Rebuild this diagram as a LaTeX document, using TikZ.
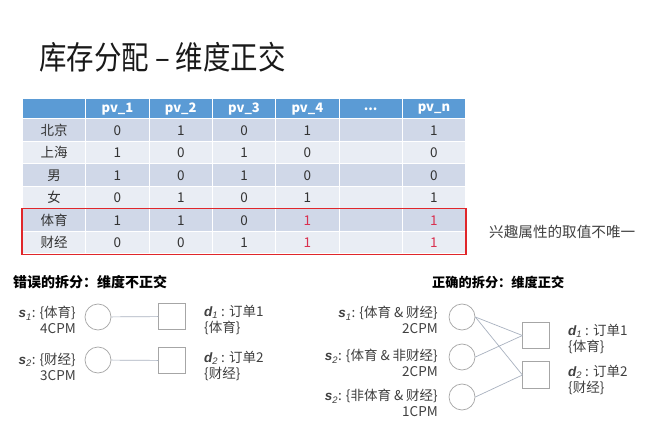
\documentclass[tikz,border=0pt]{standalone}
\usepackage{fontspec}
\setmainfont{Noto Sans CJK SC}
\newfontfamily\latit{Liberation Sans}
\usetikzlibrary{fit}
\definecolor{hdr}{HTML}{5B9BD5}
\definecolor{rowA}{HTML}{D0D8E8}
\definecolor{rowB}{HTML}{E9EDF4}
\definecolor{redbox}{HTML}{E0262A}
\definecolor{rednum}{HTML}{D9304F}
\definecolor{txt}{HTML}{333333}
\definecolor{lbl}{HTML}{404040}
\definecolor{shp}{HTML}{A6A6A6}
\definecolor{edg}{HTML}{A9B2C0}
\newcommand{\svar}[1]{{\latit\itshape\bfseries s}\textsubscript{\latit\itshape #1}}
\newcommand{\dvar}[1]{{\latit\itshape\bfseries d}\textsubscript{\latit\itshape #1}}
\begin{document}
\begin{tikzpicture}[x=1pt,y=-1pt,
  cell/.style={rectangle, minimum width=63.3pt, minimum height=22.5pt, inner sep=0pt,
    draw=white, line width=1pt, font=\fontsize{13.5}{15}\selectfont, text=txt},
  hcell/.style={cell, minimum height=20pt, fill=hdr, text=white, font=\fontsize{13}{15}\selectfont\bfseries},
  circ/.style={circle, draw=shp, line width=0.7pt, minimum size=26pt, inner sep=0pt},
  sq/.style={rectangle, draw=shp, line width=0.7pt, minimum size=26.5pt, inner sep=0pt},
  edge/.style={draw=edg, line width=0.7pt},
  slabel/.style={anchor=east, align=right, text=lbl, font=\fontsize{13.5}{15.5}\selectfont, inner sep=0pt},
  dlabel/.style={anchor=west, align=left, text=lbl, font=\fontsize{13.5}{15.5}\selectfont, inner sep=0pt},
  sect/.style={anchor=west, inner sep=0pt, text=black, font=\bfseries}
]
\useasboundingbox (0,0) rectangle (671,443);
\fill[white] (0,0) rectangle (671,443);

% title
\node[anchor=west, inner sep=0pt, text=black!90, font=\fontsize{28}{32}\selectfont] (title) at (39,57) {\scalebox{0.98}[1.15]{库存分配 – 维度正交}};

% table header
\node[hcell] (r0c0) at (54.15,109) {};
\node[hcell] (r0c1) at (117.45,109) {pv\_1};
\node[hcell] (r0c2) at (180.75,109) {pv\_2};
\node[hcell] (r0c3) at (244.05,109) {pv\_3};
\node[hcell] (r0c4) at (307.35,109) {pv\_4};
\node[hcell] (r0c5) at (370.65,109) {...};
\node[hcell] (r0c6) at (433.95,109) {pv\_n};

% table body
\foreach \r/\lab/\a/\b/\c/\d/\n/\fc/\nc in {
  1/北京/0/1/0/1/1/rowA/txt,
  2/上海/1/0/1/0/0/rowB/txt,
  3/男/1/0/1/0/0/rowA/txt,
  4/女/0/1/0/1/1/rowB/txt,
  5/体育/1/1/0/1/1/rowA/rednum,
  6/财经/0/0/1/1/1/rowB/rednum}{
  \pgfmathsetmacro{\yy}{119+22.5*(\r-1)+11.25}
  \node[cell, fill=\fc] (r\r c0) at (54.15,\yy) {\lab};
  \node[cell, fill=\fc] (r\r c1) at (117.45,\yy) {\a};
  \node[cell, fill=\fc] (r\r c2) at (180.75,\yy) {\b};
  \node[cell, fill=\fc] (r\r c3) at (244.05,\yy) {\c};
  \node[cell, fill=\fc, text=\nc] (r\r c4) at (307.35,\yy) {\d};
  \node[cell, fill=\fc] (r\r c5) at (370.65,\yy) {};
  \node[cell, fill=\fc, text=\nc] (r\r c6) at (433.95,\yy) {\n};
}
\node[draw=redbox, line width=1.3pt, inner sep=0pt, fit=(r5c0)(r6c6)] (redbox) {};
\node[anchor=west, inner sep=0pt, text=lbl, font=\fontsize{14.6}{16}\selectfont] (note) at (489,232) {兴趣属性的取值不唯一};

% wrong split
\node[sect, font=\fontsize{14}{16}\selectfont\bfseries] (wtitle) at (13,282) {错误的拆分：维度不正交};
\node[circ] (ls1) at (98,317) {};
\node[circ] (ls2) at (98,360) {};
\node[sq] (ld1) at (172,316.5) {};
\node[sq] (ld2) at (172,360.5) {};
\draw[edge] (ls1) -- (ld1);
\draw[edge] (ls2) -- (ld2);
\node[slabel] (lsl1) at (76,320) {\svar{1}: \{体育\}\\4CPM};
\node[slabel] (lsl2) at (76,367) {\svar{2}: \{财经\}\\3CPM};
\node[dlabel] (ldl1) at (204,320) {\dvar{1} : 订单1\\\{体育\}};
\node[dlabel] (ldl2) at (204,366) {\dvar{2} : 订单2\\\{财经\}};

% correct split
\node[sect, font=\fontsize{13.2}{15}\selectfont\bfseries] (rtitle) at (432,282) {正确的拆分：维度正交};
\node[circ] (rs1) at (462,317) {};
\node[circ] (rs2) at (462,357) {};
\node[circ] (rs3) at (462,397) {};
\node[sq] (rd1) at (536,335.5) {};
\node[sq] (rd2) at (536,375) {};
\draw[edge] (rs1.east) -- (rd1.west);
\draw[edge] (rs1.east) -- (rd2.west);
\draw[edge] (rs2.east) -- (rd1.west);
\draw[edge] (rs3.east) -- (rd2.west);
\node[slabel] (rsl1) at (438,320) {\svar{1}: \{体育 \& 财经\}\\2CPM};
\node[slabel] (rsl2) at (438,363) {\svar{2}: \{体育 \& 非财经\}\\2CPM};
\node[slabel] (rsl3) at (438,403) {\svar{2}: \{非体育 \& 财经\}\\1CPM};
\node[dlabel] (rdl1) at (568,339) {\dvar{1} : 订单1\\\{体育\}};
\node[dlabel] (rdl2) at (568,380) {\dvar{2} : 订单2\\\{财经\}};
\end{tikzpicture}
\end{document}
